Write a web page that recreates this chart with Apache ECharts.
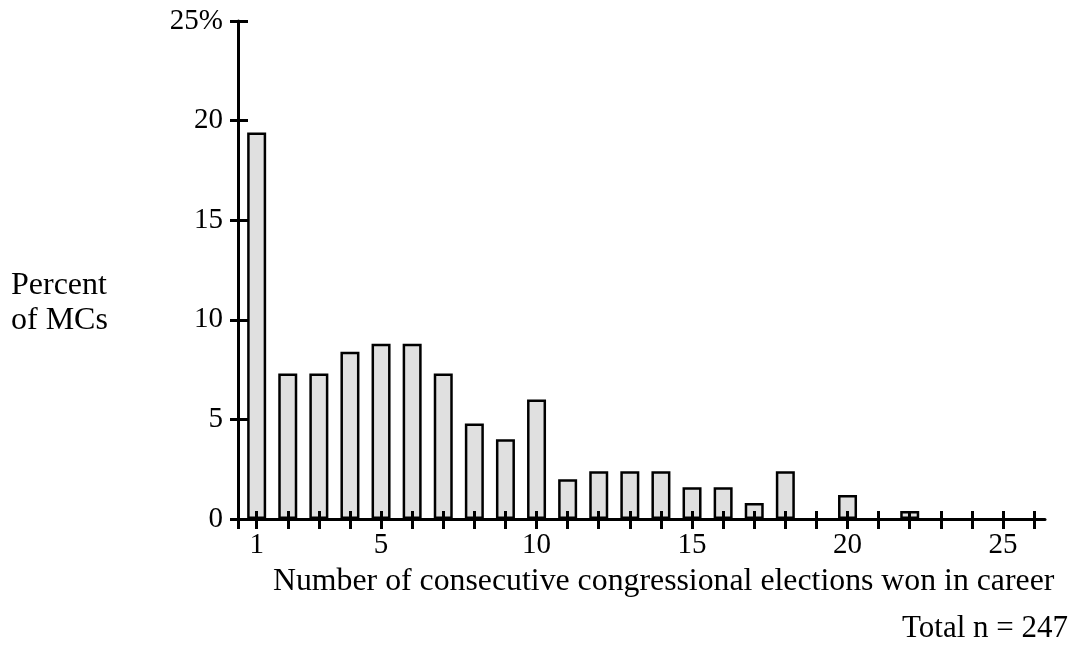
<!DOCTYPE html>
<html>
<head>
<meta charset="utf-8">
<title>Consecutive congressional elections won</title>
<script src="https://cdn.jsdelivr.net/npm/echarts@6/dist/echarts.min.js"></script>
<style>
  html, body { margin: 0; padding: 0; background: #fff; }
  #chart { width: 1073px; height: 650px; }
</style>
</head>
<body>
<div id="chart"></div>
<script>
// number of consecutive elections won (x) and share of MCs in percent (y)
const elections = [1, 2, 3, 4, 5, 6, 7, 8, 9, 10, 11, 12, 13, 14, 15, 16, 17, 18, 19, 20, 21, 22]
const percents = [19.4, 7.3, 7.3, 8.4, 8.8, 8.8, 7.3, 4.8, 4.0, 6.0, 2.0, 2.4, 2.4, 2.4, 1.6, 1.6, 0.8, 2.4, 0, 1.2, 0, 0.4]
const xTicks = [1, 2, 3, 4, 5, 6, 7, 8, 9, 10, 11, 12, 13, 14, 15, 16, 17, 18, 19, 20, 21, 22, 23, 24, 25, 26]
const xLabels = [1, 5, 10, 15, 20, 25]

const font = 'Liberation Serif'
const xMin = 0.4
const xMax = 26.35

// skip empty classes so no flat bar is drawn
const barData = []
elections.forEach((e, i) => {
  if (percents[i] > 0) barData.push([e, percents[i]])
})

const gridBox = { left: 238, right: 28, top: 21, bottom: 131 }

const chart = echarts.init(document.getElementById('chart'))
chart.setOption({
  animation: false,
  textStyle: { fontFamily: font, color: '#000' },
  grid: [
    Object.assign({}, gridBox),
    Object.assign({}, gridBox) // overlay grid for the inner half of the ticks
  ],
  xAxis: [{
    type: 'value',
    gridIndex: 0,
    min: xMin,
    max: xMax,
    z: 5,
    splitLine: { show: false },
    axisLine: { show: true, lineStyle: { color: '#000', width: 3 } },
    axisTick: {
      show: true,
      customValues: [xMin].concat(xTicks),
      length: 10,
      lineStyle: { color: '#000', width: 3 }
    },
    axisLabel: {
      customValues: xLabels,
      fontFamily: font,
      fontSize: 29,
      color: '#000',
      margin: 12
    }
  }, {
    type: 'value',
    gridIndex: 1,
    min: xMin,
    max: xMax,
    z: 5,
    splitLine: { show: false },
    axisLine: { show: false },
    axisTick: {
      show: true,
      inside: true,
      customValues: xTicks,
      length: 8,
      lineStyle: { color: '#000', width: 3 }
    },
    axisLabel: { show: false }
  }],
  yAxis: [{
    type: 'value',
    gridIndex: 0,
    min: 0,
    max: 25,
    interval: 5,
    z: 5,
    splitLine: { show: false },
    axisLine: { show: true, lineStyle: { color: '#000', width: 3 } },
    axisTick: { show: true, length: 8, lineStyle: { color: '#000', width: 3 } },
    axisLabel: {
      fontFamily: font,
      fontSize: 29,
      color: '#000',
      margin: 15,
      formatter: v => (v === 25 ? v + '%' : String(v))
    }
  }, {
    type: 'value',
    gridIndex: 1,
    min: 0,
    max: 25,
    interval: 5,
    z: 5,
    splitLine: { show: false },
    axisLine: { show: false },
    axisTick: { show: true, inside: true, length: 10, lineStyle: { color: '#000', width: 3 } },
    axisLabel: { show: false }
  }],
  series: [{
    type: 'bar',
    xAxisIndex: 0,
    yAxisIndex: 0,
    data: barData,
    barWidth: 19,
    itemStyle: { color: '#e0e0e0', borderColor: '#000', borderWidth: 2.5 }
  }],
  graphic: [{
    type: 'text',
    left: 11,
    top: 268,
    style: {
      text: 'Percent\nof MCs',
      font: '32px "' + font + '"',
      lineHeight: 35,
      fill: '#000'
    }
  }, {
    type: 'text',
    left: 273,
    top: 566,
    style: {
      text: 'Number of consecutive congressional elections won in career',
      font: '31.8px "' + font + '"',
      fill: '#000'
    }
  }, {
    type: 'text',
    right: 5,
    top: 613,
    style: {
      text: 'Total n = 247',
      font: '31px "' + font + '"',
      fill: '#000'
    }
  }]
})
</script>
</body>
</html>
